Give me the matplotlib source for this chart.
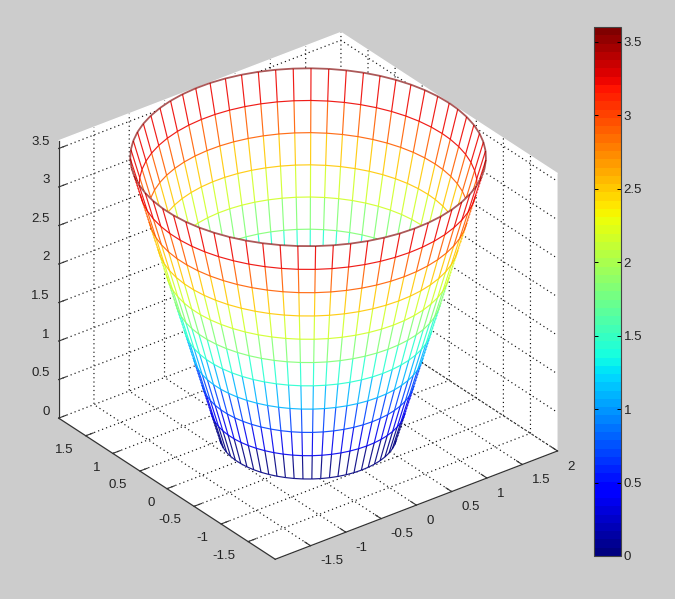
#!/usr/bin/env python3

import numpy as np
import matplotlib
matplotlib.use('Agg')
import matplotlib.pyplot as plt
from matplotlib.cm import ScalarMappable
from matplotlib.colors import Normalize
from mpl_toolkits.mplot3d.art3d import Line3DCollection, Poly3DCollection

plt.rcParams['font.family'] = ['Liberation Sans', 'DejaVu Sans']
plt.rcParams['font.size'] = 9.5

ring_z = [0.0, 0.36, 0.72, 1.08, 1.44, 1.8, 2.16, 2.52, 2.88, 3.24, 3.6]
ring_r = [1.0, 1.1, 1.2, 1.3, 1.4, 1.5, 1.6, 1.7, 1.8, 1.9, 2.0]
angles = [0.0, 0.1, 0.2, 0.3, 0.4, 0.5, 0.6, 0.7, 0.8, 0.9,
          1.0, 1.1, 1.2, 1.3, 1.4, 1.5, 1.6, 1.7, 1.8, 1.9,
          2.0, 2.1, 2.2, 2.3, 2.4, 2.5, 2.6, 2.7, 2.8, 2.9,
          3.0, 3.1, 3.2, 3.3, 3.4, 3.5, 3.6, 3.7, 3.8, 3.9,
          4.0, 4.1, 4.2, 4.3, 4.4, 4.5, 4.6, 4.7, 4.8, 4.9,
          5.0, 5.1, 5.2, 5.3, 5.4, 5.5, 5.6, 5.7, 5.8, 5.9,
          6.0, 6.1, 6.2]
xy_ticks = [-1.5, -1, -0.5, 0, 0.5, 1, 1.5]
x_ticks = xy_ticks + [2]
z_ticks = [0, 0.5, 1, 1.5, 2, 2.5, 3, 3.5]

AZIM = -127.5
ELEV = 30
TEXT = '#222222'

cmap = plt.get_cmap('jet', 64)
norm = Normalize(0, 3.6)

fig = plt.figure(figsize=(6.75, 5.99), dpi=100, facecolor='#cccccc')
ax = fig.add_axes([0, -5 / 599, 600 / 675, 600 / 599], projection='3d',
                  proj_type='ortho', computed_zorder=False)
ax.patch.set_visible(False)
ax.view_init(elev=ELEV, azim=AZIM)
ax.set_box_aspect((4, 4, 3.6), zoom=0.965)
ax.set_xlim(-2, 2)
ax.set_ylim(-2, 2)
ax.set_zlim(0, 3.6)

for axis in (ax.xaxis, ax.yaxis, ax.zaxis):
    axis.set_pane_color('white')
    axis.pane.set_edgecolor('white')
    axis.line.set_color('#333333')
    axis.line.set_linewidth(0.9)
    axis._axinfo['grid'].update(color='#111111', linestyle=(0, (1, 2.6)), linewidth=0.85)
    axis._axinfo['tick'].update(inward_factor=0.0, outward_factor=0.33)

ax.set_xticks(x_ticks, [f'{t:g}' for t in x_ticks], ha='left', va='baseline')
ax.set_yticks(xy_ticks, [f'{t:g}' for t in xy_ticks], ha='right', va='baseline')
ax.set_zticks(z_ticks, [f'{t:g}' for t in z_ticks], ha='right', va='bottom')
ax.tick_params(axis='both', which='major', labelsize=9.5, width=0.7, color='#333333',
               labelcolor=TEXT, pad=2)
ax.tick_params(axis='z', pad=-4)

# split the cone into the half seen from inside and the half seen from outside
t = np.array(angles + angles[:1])
z = np.array(ring_z)
r = np.array(ring_r)
X = np.outer(r, np.cos(t))
Y = np.outer(r, np.sin(t))
Z = np.outer(z, np.ones_like(t))
slope = (r[-1] - r[0]) / (z[-1] - z[0])
az, el = np.radians(AZIM), np.radians(ELEV)


def faces_viewer(a):
    return np.cos(el) * np.cos(a - az) - slope * np.sin(el) > 0


def p(a, b):
    return (X[a, b], Y[a, b], Z[a, b])


faces = {True: [], False: []}
segs = {True: [], False: []}
cols = {True: [], False: []}
widths = {True: [], False: []}
for i in range(len(z)):
    rim = i == len(z) - 1
    for k in range(len(t) - 1):
        front = bool(faces_viewer(t[k] + 0.05))
        segs[front].append([p(i, k), p(i, k + 1)])
        cols[front].append(cmap(norm(z[i]), alpha=0.65 if rim else 0.9))
        widths[front].append(1.3 if rim else 0.85)
        if not rim:
            faces[front].append([p(i, k), p(i, k + 1), p(i + 1, k + 1), p(i + 1, k)])
            fv = bool(faces_viewer(t[k]))
            segs[fv].append([p(i, k), p(i + 1, k)])
            cols[fv].append(cmap(norm(z[i]), alpha=0.9))
            widths[fv].append(0.85)

order = 1
for front in (False, True):
    ax.add_collection3d(Poly3DCollection(faces[front], facecolors='white', edgecolors='none',
                                         antialiaseds=False, zorder=order))
    ax.add_collection3d(Line3DCollection(segs[front], colors=cols[front], linewidths=widths[front],
                                         zorder=order + 1))
    order += 2

cax = fig.add_axes([593.5 / 675, (599 - 556) / 599, 27.5 / 675, 529 / 599])
cb = fig.colorbar(ScalarMappable(norm=norm, cmap=cmap), cax=cax, ticks=z_ticks, drawedges=False)
cb.ax.set_yticklabels([f'{t:g}' for t in z_ticks])
cb.ax.tick_params(direction='in', left=True, right=True, length=3, width=0.7, pad=2,
                  labelsize=9.5, labelcolor=TEXT)
cb.outline.set_edgecolor('#444444')
cb.outline.set_linewidth(0.8)

fig.savefig('out.png', dpi=100, facecolor=fig.get_facecolor())
